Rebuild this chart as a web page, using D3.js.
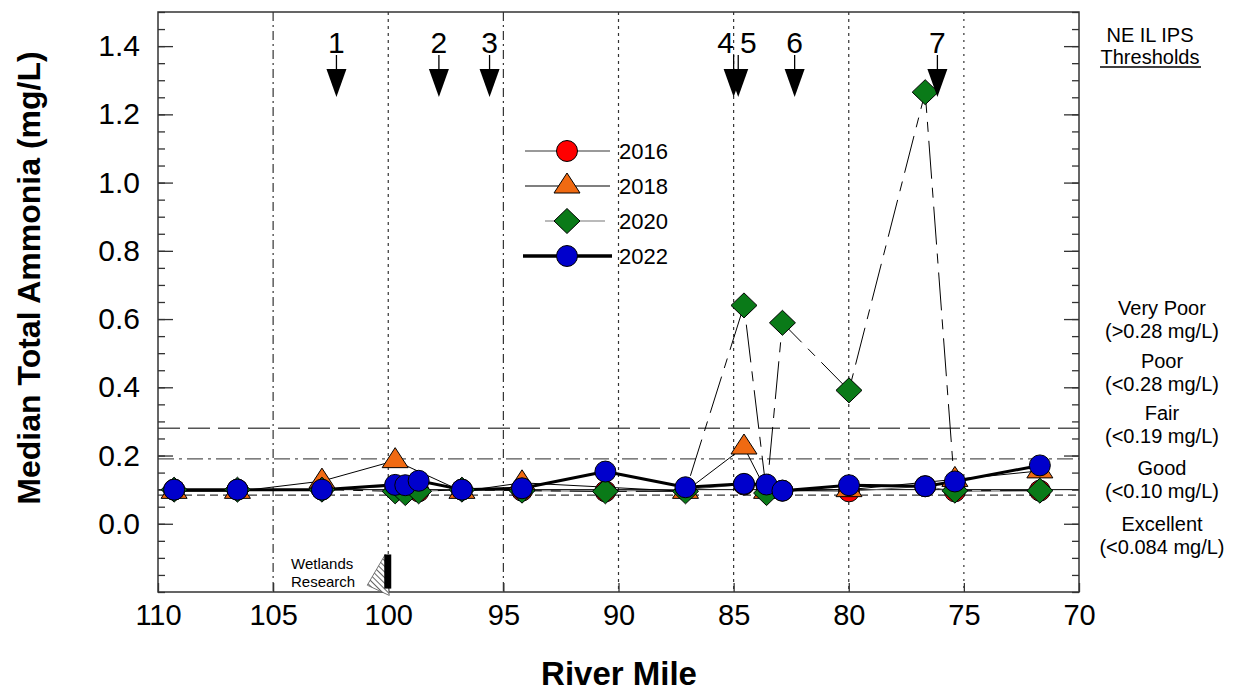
<!DOCTYPE html>
<html><head><meta charset="utf-8">
<script src="https://cdn.jsdelivr.net/npm/d3@7"></script>
<style>body{margin:0;background:#fff}svg{display:block;font-family:"Liberation Sans",Arial,sans-serif}</style>
</head><body><svg id="c" width="1237" height="692"></svg>
<script>
// ---- data ----
const riverMiles = [109.3, 106.55, 102.88, 99.7, 99.26, 98.68, 96.8, 94.19, 90.57, 87.09, 84.55, 83.57, 82.88, 79.99, 76.68, 75.39, 71.7];
const series2016 = [0.10, 0.10, 0.10, 0.11, 0.11, 0.095, 0.10, 0.097, 0.095, 0.10, 0.115, 0.11, 0.097, 0.095, 0.11, 0.095, 0.097];
const series2018 = [0.095, 0.095, 0.125, 0.185, null, null, 0.095, 0.12, null, 0.095, 0.225, 0.095, null, 0.10, null, 0.13, 0.155];
const series2020 = [0.10, 0.10, 0.10, 0.095, 0.09, 0.095, 0.10, 0.097, 0.095, 0.095, 0.64, 0.09, 0.589, 0.391, 1.265, 0.097, 0.097];
const series2022 = [0.10, 0.10, 0.10, 0.114, 0.113, 0.126, 0.10, 0.104, 0.153, 0.107, 0.117, 0.115, 0.097, 0.113, 0.11, 0.124, 0.171];
const years = ["2016", "2018", "2020", "2022"];
const xTicks = [110, 105, 100, 95, 90, 85, 80, 75, 70];
const yTicks = [0, 0.2, 0.4, 0.6, 0.8, 1.0, 1.2, 1.4];
const gridMiles = [105, 100, 95, 90, 85, 80, 75];
const thresholdValues = [0.28, 0.19, 0.10, 0.084];
const thresholdNames = ["Very Poor", "Poor", "Fair", "Good", "Excellent"];
const thresholdRanges = ["(>0.28 mg/L)", "(<0.28 mg/L)", "(<0.19 mg/L)", "(<0.10 mg/L)", "(<0.084 mg/L)"];
const arrowMiles = [102.25, 97.8, 95.6, 85.0, 84.8, 82.35, 76.15];
const arrowLabels = ["1", "2", "3", "4", "5", "6", "7"];
const wetlandsMile = 100;

// ---- layout ----
const svg = d3.select("#c");
const L = 158, R = 1079, T = 12, B = 592;
const x = d3.scaleLinear().domain([110, 70]).range([L, R]);
const y = d3.scaleLinear().domain([-0.2, 1.5]).range([B, T]);

const seriesData = [series2016, series2018, series2020, series2022];
const colors = ["#ff0000", "#f06a12", "#0a7a18", "#0000cc"];
const circlePath = d3.symbol().type(d3.symbolCircle).size(346)();
const shapePaths = [
  circlePath,
  "M0,-13L13,7L-13,7Z",
  "M0,-12.5L13,0L0,12.5L-13,0Z",
  circlePath
];
const lineStyles = [
  {stroke: "#666", w: 1, dash: null},
  {stroke: "#000", w: 1, dash: null},
  {stroke: "#000", w: 1, dash: "38,9,10,9"},
  {stroke: "#000", w: 3, dash: null}
];

const defs = svg.append("defs");
const pat = defs.append("pattern").attr("id", "hatch").attr("patternUnits", "userSpaceOnUse")
  .attr("width", 4).attr("height", 4).attr("patternTransform", "rotate(45)");
pat.append("rect").attr("width", 4).attr("height", 4).attr("fill", "#fff");
pat.append("line").attr("x1", 0).attr("y1", 0).attr("x2", 4).attr("y2", 0).attr("stroke", "#333").attr("stroke-width", 1.5);

// vertical grid lines
const gridDash = {105: "9,4,2,4", 100: "3,4", 95: "9,4,2,4", 90: "3,4", 85: "3,4", 80: "3,4", 75: "2,5"};
svg.append("g").selectAll("line").data(gridMiles).join("line")
  .attr("x1", d => x(d)).attr("x2", d => x(d)).attr("y1", T).attr("y2", B)
  .attr("stroke", "#333").attr("stroke-width", 1.2).attr("stroke-dasharray", d => gridDash[d]);

// threshold lines
const thrStyle = [
  {stroke: "#555", dash: "22,8", w: 1.3},
  {stroke: "#555", dash: "16,5,3,5", w: 1.3},
  {stroke: "#000", dash: null, w: 1},
  {stroke: "#000", dash: "8,5", w: 1}
];
svg.append("g").selectAll("line").data(thresholdValues).join("line")
  .attr("x1", L).attr("x2", R).attr("y1", d => y(d)).attr("y2", d => y(d))
  .attr("stroke", (d, i) => thrStyle[i].stroke).attr("stroke-width", (d, i) => thrStyle[i].w)
  .attr("stroke-dasharray", (d, i) => thrStyle[i].dash);

// axes (ticks inward)
const minor = d3.range(-0.2, 1.5001, 0.05).map(v => +v.toFixed(2));
function styleAxis(g) { g.select(".domain").remove(); g.selectAll("line").attr("stroke", "#333").attr("stroke-width", 1.3); }
svg.append("g").attr("transform", `translate(${L},0)`).call(d3.axisLeft(y).tickValues(minor).tickSize(-7).tickFormat("")).call(styleAxis);
svg.append("g").attr("transform", `translate(${R},0)`).call(d3.axisRight(y).tickValues(minor).tickSize(-7).tickFormat("")).call(styleAxis);
svg.append("g").attr("transform", `translate(${R},0)`).call(d3.axisRight(y).tickValues(yTicks).tickSize(-15).tickFormat("")).call(styleAxis);
const yAx = svg.append("g").attr("transform", `translate(${L},0)`)
  .call(d3.axisLeft(y).tickValues(yTicks).tickSize(-15).tickPadding(18).tickFormat(d3.format(".1f")));
yAx.call(styleAxis);
yAx.selectAll("text").attr("font-size", 30).attr("font-family", "Liberation Sans, Arial").attr("fill", "#000");
const xAx = svg.append("g").attr("transform", `translate(0,${B})`)
  .call(d3.axisBottom(x).tickValues(xTicks).tickSize(-9).tickPadding(10).tickFormat(d3.format("d")));
xAx.call(styleAxis);
xAx.selectAll("text").attr("font-size", 29).attr("font-family", "Liberation Sans, Arial").attr("fill", "#000").attr("dy", "0.8em");

// frame
svg.append("rect").attr("x", L).attr("y", T).attr("width", R - L).attr("height", B - T)
  .attr("fill", "none").attr("stroke", "#333").attr("stroke-width", 1.5);

// series lines
const lineGen = d3.line().defined(d => d[1] != null).x(d => x(d[0])).y(d => y(d[1]));
seriesData.forEach((s, i) => {
  const pts = riverMiles.map((m, j) => [m, s[j]]).filter(d => d[1] != null);
  svg.append("path").datum(pts)
    .attr("d", lineGen).attr("fill", "none").attr("stroke", lineStyles[i].stroke)
    .attr("stroke-width", lineStyles[i].w).attr("stroke-dasharray", lineStyles[i].dash)
    .attr("stroke-linejoin", "round");
});
// markers
seriesData.forEach((s, i) => {
  svg.append("g").selectAll("path").data(riverMiles.map((m, j) => [m, s[j]]).filter(d => d[1] != null)).join("path")
    .attr("transform", d => `translate(${x(d[0])},${y(d[1])})`)
    .attr("d", shapePaths[i])
    .attr("fill", colors[i]).attr("stroke", "#000").attr("stroke-width", 1);
});

// arrows
const ag = svg.append("g");
arrowMiles.forEach((m, i) => {
  const ax = x(m);
  let dx = 0;
  if (i + 1 < arrowMiles.length && Math.abs(arrowMiles[i + 1] - m) < 0.5) dx = -8;
  if (i > 0 && Math.abs(arrowMiles[i - 1] - m) < 0.5) dx = 10;
  ag.append("text").attr("x", ax + dx).attr("y", 53).attr("text-anchor", "middle")
    .attr("font-size", 30).text(arrowLabels[i]);
  ag.append("line").attr("x1", ax).attr("x2", ax).attr("y1", 55).attr("y2", 70).attr("stroke", "#000").attr("stroke-width", 1.3);
  ag.append("path").attr("d", `M${ax - 10},69 L${ax + 10},69 L${ax},97 Z`).attr("fill", "#000");
});

// legend
const lg = svg.append("g");
const legLines = [[525, 610, "#777", 1.5], [525, 610, "#000", 1.2], [545, 605, "#777", 1.2], [523, 612, "#000", 3.5]];
years.forEach((yr, i) => {
  const ly = 151 + i * 35;
  lg.append("line").attr("x1", legLines[i][0]).attr("x2", legLines[i][1]).attr("y1", ly).attr("y2", ly)
    .attr("stroke", legLines[i][2]).attr("stroke-width", legLines[i][3]);
  lg.append("path").attr("transform", `translate(567,${ly})`).attr("d", shapePaths[i])
    .attr("fill", colors[i]).attr("stroke", "#000").attr("stroke-width", 1);
  lg.append("text").attr("x", 619).attr("y", ly + 8).attr("font-size", 22).text(yr);
});

// right-side threshold labels
const rg = svg.append("g").attr("text-anchor", "middle").attr("font-size", 20);
rg.append("text").attr("x", 1150).attr("y", 42).text("NE IL IPS");
rg.append("text").attr("x", 1150).attr("y", 64).text("Thresholds");
rg.append("line").attr("x1", 1100).attr("x2", 1201).attr("y1", 67).attr("y2", 67).attr("stroke", "#000").attr("stroke-width", 1.3);
const nameY = [315, 368, 420, 475, 531];
thresholdNames.forEach((n, i) => {
  rg.append("text").attr("x", 1162).attr("y", nameY[i]).text(n);
  rg.append("text").attr("x", 1162).attr("y", nameY[i] + 23).text(thresholdRanges[i]);
});

// axis titles
svg.append("text").attr("x", 619).attr("y", 685).attr("text-anchor", "middle")
  .attr("font-size", 33).attr("font-weight", "bold").text("River Mile");
svg.append("text").attr("transform", "translate(40,278) rotate(-90)").attr("text-anchor", "middle")
  .attr("font-size", 32).attr("font-weight", "bold").text("Median Total Ammonia (mg/L)");

// Wetlands Research marker
const wx = x(wetlandsMile);
svg.append("path").attr("d", `M${wx - 3},${y(-0.09)} L${wx - 21},${y(-0.18)} L${wx + 1},${y(-0.21)} Z`)
  .attr("fill", "url(#hatch)").attr("stroke", "#555").attr("stroke-width", 0.8);
svg.append("rect").attr("x", wx - 4).attr("y", y(-0.09)).attr("width", 7).attr("height", y(-0.19) - y(-0.09)).attr("fill", "#000");
svg.append("text").attr("x", 291).attr("y", 569).attr("font-size", 15).text("Wetlands");
svg.append("text").attr("x", 291).attr("y", 587).attr("font-size", 15).text("Research");
</script></body></html>
